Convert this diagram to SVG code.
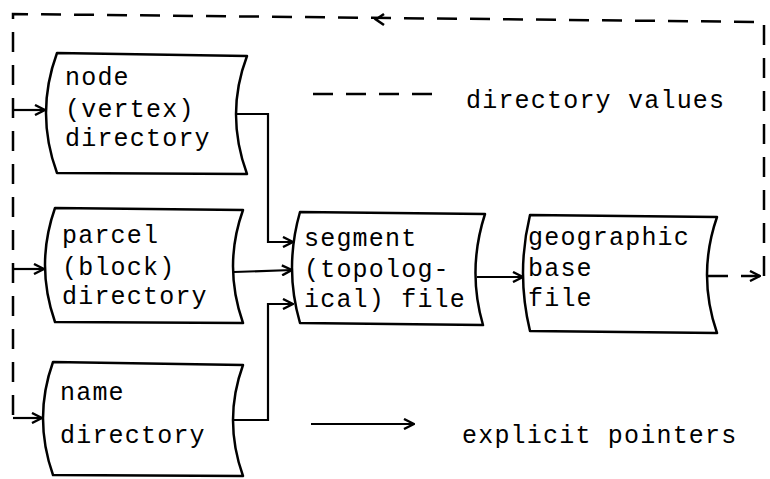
<svg xmlns="http://www.w3.org/2000/svg" width="770" height="479" viewBox="0 0 770 479">
<style>
.box{fill:#fff;stroke:#000;stroke-width:2.5;stroke-linejoin:round}
.t{font-family:"Liberation Mono","Courier New",monospace;font-size:25px;letter-spacing:1.2px;fill:#000}
.s{fill:none;stroke:#000;stroke-width:2.2}
.d{fill:none;stroke:#000;stroke-width:2.5;stroke-dasharray:20 13}
</style>
<defs>
<marker id="ah" viewBox="0 0 12 12" refX="11" refY="6" markerWidth="12" markerHeight="12" markerUnits="userSpaceOnUse" orient="auto">
<path d="M1,1 L11,6 L1,11" fill="none" stroke="#000" stroke-width="2.4"/>
</marker>
</defs>
<g id="connectors">
<path class="d" d="M764,276 L764,22 L13,14 L13,418"/>
<path d="M384,14 L376,19.5 L384,25" fill="none" stroke="#000" stroke-width="2.6"/>
<path class="d" d="M708,276 L760,276" marker-end="url(#ah)"/>
<path class="s" d="M13,110 L45,110" marker-end="url(#ah)"/>
<path class="s" d="M13,269 L44,269" marker-end="url(#ah)"/>
<path class="s" d="M13,418 L42,418" marker-end="url(#ah)"/>
<path class="s" d="M236,114 L268,114 L268,242 L293,242" marker-end="url(#ah)"/>
<path class="s" d="M234,272 L292,270" marker-end="url(#ah)"/>
<path class="s" d="M233,420 L268,420 L268,304 L293,304" marker-end="url(#ah)"/>
<path class="s" d="M477,277 L523,277" marker-end="url(#ah)"/>
</g>
<g id="node-vertex">
<path class="box" d="M57,53 L247,56 Q225,114 247,174 L57,173 Q35,113 57,53 Z"/>
<text class="t" x="65" y="85">node</text>
<text class="t" x="65" y="117">(vertex)</text>
<text class="t" x="65" y="146">directory</text>
</g>
<g id="parcel-block">
<path class="box" d="M55,208 L243,210 Q223,266 243,323 L55,322 Q35,265 55,208 Z"/>
<text class="t" x="62" y="243">parcel</text>
<text class="t" x="62" y="275">(block)</text>
<text class="t" x="62" y="304">directory</text>
</g>
<g id="name-directory">
<path class="box" d="M53,362 L243,365 Q223,420 243,476 L53,475 Q33,418 53,362 Z"/>
<text class="t" x="60" y="400">name</text>
<text class="t" x="60" y="443">directory</text>
</g>
<g id="segment">
<path class="box" d="M300,212 L485,214 Q467,270 483,325 L300,323 Q284,268 300,212 Z"/>
<text class="t" x="304" y="246">segment</text>
<text class="t" x="304" y="277">(topolog-</text>
<text class="t" x="304" y="307">ical) file</text>
</g>
<g id="geographic">
<path class="box" d="M530,215 L717,217 Q697,275 717,333 L530,331 Q516,273 530,215 Z"/>
<text class="t" x="528" y="245">geographic</text>
<text class="t" x="528" y="276">base</text>
<text class="t" x="528" y="306">file</text>
</g>
<g id="legend">
<path class="d" d="M313,94 L433,94" stroke-dasharray="18 14"/>
<text class="t" x="466" y="108">directory values</text>
<path class="s" d="M311,424 L414,424" marker-end="url(#ah)"/>
<text class="t" x="462" y="443">explicit pointers</text>
</g>
</svg>
